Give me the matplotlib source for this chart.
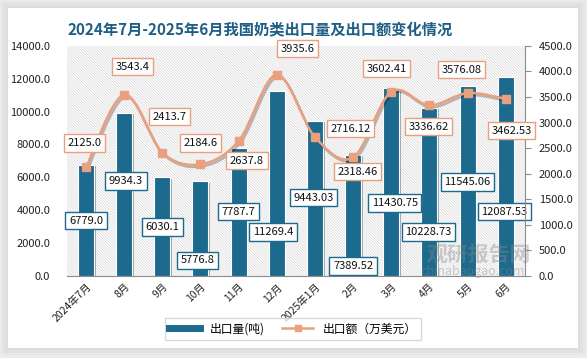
import numpy as np
import matplotlib.pyplot as plt
from matplotlib.path import Path
from matplotlib.patches import PathPatch, Rectangle
from matplotlib.lines import Line2D
import matplotlib.patheffects as pe

plt.rcParams['font.family'] = ['Noto Sans CJK SC', 'DejaVu Sans']
plt.rcParams['hatch.linewidth'] = 0.45
plt.rcParams['hatch.color'] = '#d2d2d2'

# data
months = ['2024年7月', '8月', '9月', '10月', '11月', '12月', '2025年1月',
          '2月', '3月', '4月', '5月', '6月']
volume = [6779.0, 9934.3, 6030.1, 5776.8, 7787.7, 11269.4, 9443.03,
          7389.52, 11430.75, 10228.73, 11545.06, 12087.53]
amount = [2125.0, 3543.4, 2413.7, 2184.6, 2637.8, 3935.6, 2716.12,
          2318.46, 3602.41, 3336.62, 3576.08, 3462.53]

# label placement (Excel style)
bar_lab_dx = [0, 0.05, 0, -0.07, 0, -0.1, -0.03, 0, 0.09, -0.02, 0, -0.03]
bar_lab_y = [3350, 5780, 2980, 970, 3900, 2680, 4750, 610, 4440, 2680, 5720, 3900]
line_lab_x = [-0.05, 1.23, 2.2, 3.01, 4.22, 5.55, 6.94, 7.12, 7.88, 8.98, 9.85, 11.16]
line_lab_y = [2600, 4090, 3110, 2600, 2250, 4440, 2880, 2035, 4050, 2920, 4030, 2840]

teal = '#1c6a8d'
salmon = '#e9a07f'

fig = plt.figure(figsize=(5.87, 3.58), dpi=100, facecolor='#ececec')

# white card with a soft shadow
for k, a in enumerate([0.25, 0.4, 0.6]):
    d = 0.004 * (3 - k)
    fig.patches.append(Rectangle((0.0136 - d, 0.028 - d * 1.6), 0.971 + 2 * d, 0.95 + 2 * d * 1.6,
                                 transform=fig.transFigure, facecolor='#dadada',
                                 alpha=a, edgecolor='none', zorder=-2))
fig.patches.append(Rectangle((0.0136, 0.028), 0.971, 0.95, transform=fig.transFigure,
                             facecolor='white', edgecolor='none', zorder=-1))

ax = fig.add_axes([0.114, 0.229, 0.78, 0.643])
ax.set_facecolor('none')
ax.add_patch(Rectangle((0, 0), 1, 1, transform=ax.transAxes, facecolor='white',
                       hatch='\\' * 12, lw=0, zorder=0))

x = np.arange(len(months))
bars = ax.bar(x, volume, width=0.42, color=teal, edgecolor='white', lw=0.8, zorder=2)
for b in bars:
    b.set_path_effects([pe.SimplePatchShadow(offset=(1.2, -1.2), alpha=0.35), pe.Normal()])

ax.set_ylim(0, 14000)
ax.set_xlim(-0.5, len(months) - 0.5)
ax.set_yticks(np.arange(0, 14001, 2000))
ax.set_yticklabels([f'{v:.1f}' for v in np.arange(0, 14001, 2000)])
ax.set_xticks(x)
ax.set_xticklabels(months, rotation=45, ha='right', rotation_mode='anchor')
ax.tick_params(axis='y', length=0, pad=12, labelsize=8, colors='#222222')
ax.tick_params(axis='x', length=0, pad=4, labelsize=7.5, colors='#222222')
for s in ['top', 'right', 'left']:
    ax.spines[s].set_visible(False)
ax.spines['bottom'].set_color('#8c8c8c')
ax.spines['bottom'].set_zorder(3)

for i, v in enumerate(volume):
    ax.text(i + bar_lab_dx[i], bar_lab_y[i], str(v), ha='center', va='center',
            fontsize=8, color='#111111', zorder=5,
            bbox=dict(boxstyle='square,pad=0.32', fc='white', ec=teal, lw=1))

ax2 = ax.twinx()
ax2.set_ylim(0, 4500)
ax2.set_yticks(np.arange(0, 4501, 500))
ax2.set_yticklabels([f'{v:.1f}' for v in np.arange(0, 4501, 500)])
ax2.tick_params(axis='y', length=4, direction='out', color='#8c8c8c', pad=6,
                labelsize=8, labelcolor='#222222')
for s in ['top', 'left', 'bottom']:
    ax2.spines[s].set_visible(False)
ax2.spines['right'].set_color('#8c8c8c')

# smoothed line (Bezier through the points, like Excel)
pts = np.column_stack([x, amount]).astype(float)
verts = [pts[0]]
codes = [Path.MOVETO]
n = len(pts)
for i in range(n - 1):
    p0, p1 = pts[max(i - 1, 0)], pts[i]
    p2, p3 = pts[i + 1], pts[min(i + 2, n - 1)]
    verts += [p1 + (p2 - p0) / 6, p2 - (p3 - p1) / 6, p2]
    codes += [Path.CURVE4] * 3
curve = PathPatch(Path(verts, codes), fill=False, ec=salmon, lw=1.8, zorder=3)
curve.set_path_effects([pe.SimpleLineShadow(offset=(1, -1.5), alpha=0.25), pe.Normal()])
ax2.add_patch(curve)
ax2.plot(x, amount, ls='none', marker='s', ms=6, color=salmon, zorder=4)

for i, v in enumerate(amount):
    ax2.text(line_lab_x[i], line_lab_y[i], str(v), ha='center', va='center',
             fontsize=8, color='#111111', zorder=6, clip_on=False,
             bbox=dict(boxstyle='square,pad=0.32', fc='white', ec=salmon, lw=1))

fig.text(0.443, 0.919, '2024年7月-2025年6月我国奶类出口量及出口额变化情况',
         ha='center', va='center', fontsize=11, fontweight='bold', color='#1f5f86')

# watermark
fig.text(0.815, 0.29, '观研报告网', ha='center', va='center', fontsize=15,
         fontweight='bold', color='#8a8a8a', alpha=0.4, zorder=10)
fig.text(0.805, 0.243, 'chinabaogao.com', ha='center', va='center', fontsize=9,
         color='#8a8a8a', alpha=0.4, zorder=10)

handles = [Line2D([], [], color=teal, lw=5),
           Line2D([], [], color=salmon, lw=1.8, marker='s', ms=5)]
fig.legend(handles, ['出口量(吨)', '出口额（万美元）'], loc='center',
           bbox_to_anchor=(0.499, 0.081), ncol=2, fontsize=8.5, frameon=True,
           fancybox=False, edgecolor='#d0d0d0', handlelength=2.6, columnspacing=1.5,
           borderpad=0.35)

fig.savefig('out.png', dpi=100, facecolor=fig.get_facecolor())
